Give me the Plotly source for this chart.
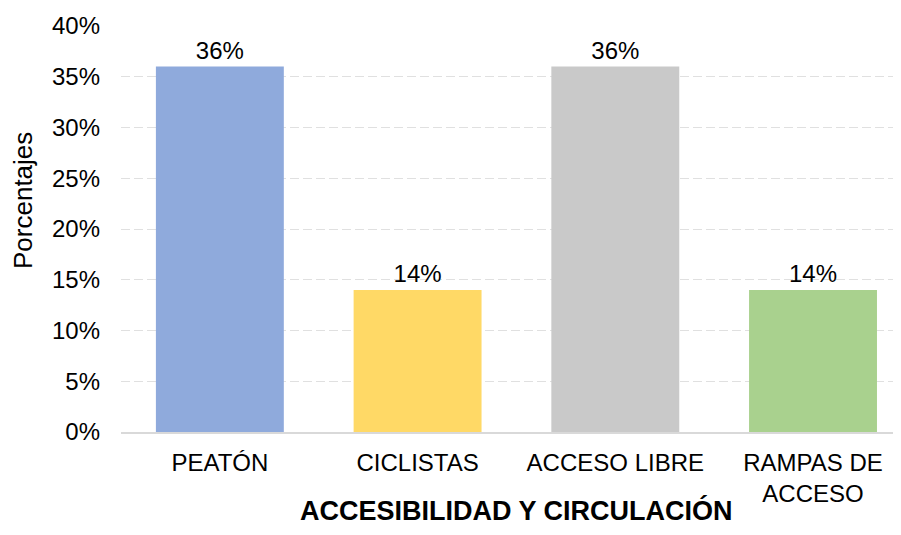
import plotly.graph_objects as go

categories = ["PEATÓN", "CICLISTAS", "ACCESO LIBRE", "RAMPAS DE<br>ACCESO"]
values = [36, 14, 36, 14]
labels = ["36%", "14%", "36%", "14%"]
colors = ["#8FAADC", "#FFD966", "#C9C9C9", "#A9D18E"]
yticks = [0, 5, 10, 15, 20, 25, 30, 35, 40]
yticklabels = [f"{v}%" for v in yticks]

FONT = "Liberation Sans, Arial, sans-serif"
# page body has an 8px margin; compensate so the plot lands where the reference has it
W, H = 893, 527
L, T, B = 113, 18, 103
PW = W - L
PH = H - T - B

fig = go.Figure(go.Bar(
    x=list(range(len(categories))),
    y=values,
    marker=dict(color=colors, line=dict(width=0)),
    width=0.647,
    text=labels,
    textposition="outside",
    textfont=dict(family=FONT, size=24, color="#000000"),
    cliponaxis=False,
))

fig.update_layout(
    width=W, height=H,
    margin=dict(l=L, r=0, t=T, b=B),
    paper_bgcolor="white", plot_bgcolor="white",
    showlegend=False,
    font=dict(family=FONT, size=24, color="#000000"),
    xaxis=dict(
        range=[-0.5, 3.445],
        tickmode="array",
        tickvals=list(range(len(categories))),
        ticktext=categories,
        tickfont=dict(family=FONT, size=24, color="#000000"),
        showgrid=False, zeroline=False,
        showline=True, linecolor="#D9D9D9", linewidth=2,
        ticks="", ticklen=0, automargin=False,
        ticklabelstandoff=8,
    ),
    yaxis=dict(
        range=[0, 40],
        tickmode="array",
        tickvals=yticks,
        ticktext=yticklabels,
        tickfont=dict(family=FONT, size=24, color="#000000"),
        showgrid=True, gridcolor="#E0E0E0", griddash="9px,4px", gridwidth=1,
        zeroline=False, showline=False,
        ticks="", ticklabelstandoff=20, automargin=False,
    ),
    annotations=[
        dict(text="<b>ACCESIBILIDAD Y CIRCULACIÓN</b>",
             xref="paper", yref="paper",
             x=395 / PW, y=-79 / PH,
             xanchor="center", yanchor="middle", showarrow=False,
             font=dict(family=FONT, size=27, color="#000000")),
        dict(text="Porcentajes",
             xref="paper", yref="paper",
             x=-98 / PW, y=1 - 175 / PH,
             xanchor="center", yanchor="middle", showarrow=False,
             textangle=-90,
             font=dict(family=FONT, size=26, color="#000000")),
    ],
)

fig.write_html("out.html")
